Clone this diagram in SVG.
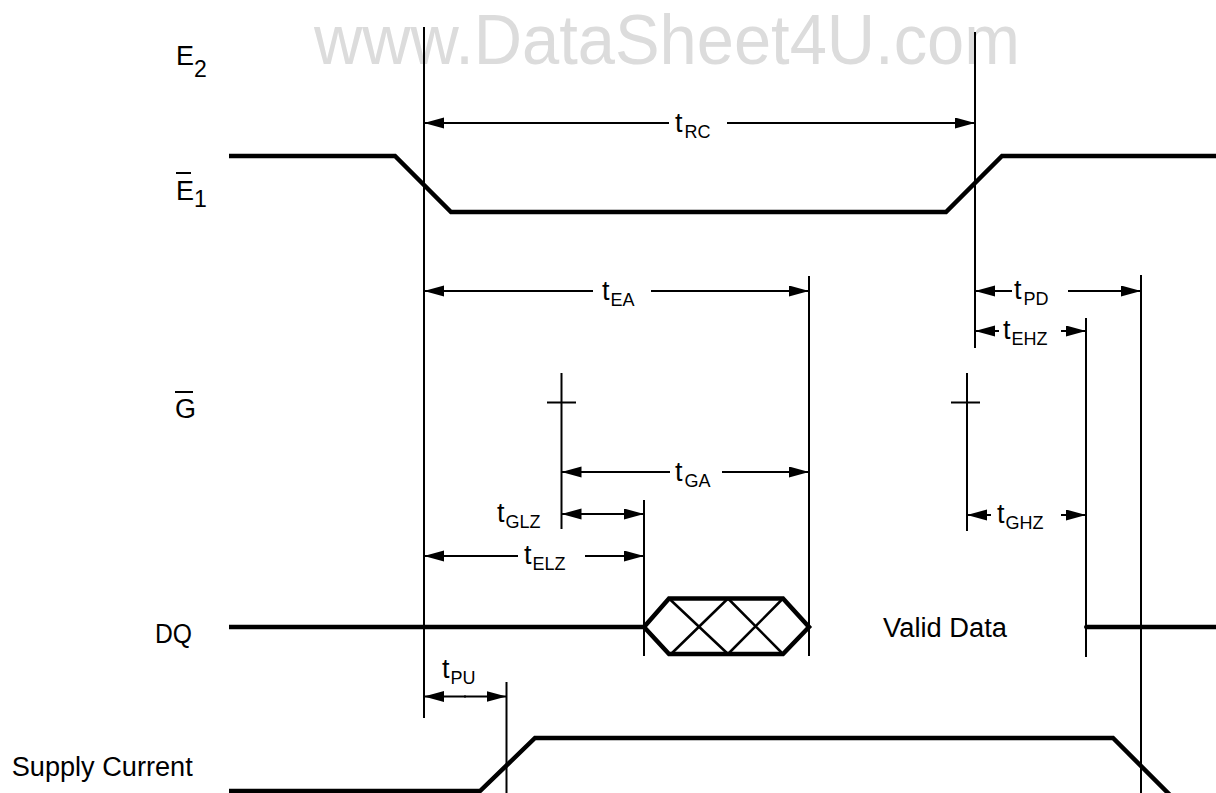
<svg xmlns="http://www.w3.org/2000/svg" width="1216" height="793" viewBox="0 0 1216 793">
<style>
text{font-family:"Liberation Sans",Arial,Helvetica,sans-serif;fill:#000}
.wm{font-size:70px;fill:#dcdcdc}
.row{font-size:27px}
.lbl{font-size:27px}
.sub{font-size:18px}
.sig{stroke:#000;stroke-width:4.5;fill:none;stroke-linejoin:miter}
.thin{stroke:#000;stroke-width:2;fill:none}
.arr{stroke:#000;stroke-width:2;fill:none;marker-end:url(#ah)}
.hatch{stroke:#000;stroke-width:2.5;fill:none}
</style>
<defs>
<marker id="ah" markerUnits="userSpaceOnUse" markerWidth="22" markerHeight="12" refX="20" refY="5.5" orient="auto">
<path d="M0,0 L20,5.5 L0,11 z" fill="#000"/>
</marker>
</defs>
<rect width="1216" height="793" fill="#fff"/>
<text class="wm" x="314" y="64" textLength="706" lengthAdjust="spacingAndGlyphs">www.DataSheet4U.com</text>

<g id="signal-E2">
<text class="row" x="176" y="65">E<tspan font-size="23" dy="12">2</tspan></text>
</g>

<g id="signal-E1">
<line class="thin" x1="176" y1="173" x2="191" y2="173"/>
<text class="row" x="176" y="200">E<tspan font-size="23" dy="7">1</tspan></text>
<polyline class="sig" points="229,156 395,156 451,212 946,212 1002,156 1216,156"/>
</g>

<g id="signal-G">
<line class="thin" x1="175" y1="392" x2="193" y2="392"/>
<text class="row" x="175" y="418">G</text>
<line class="thin" x1="561.5" y1="373" x2="561.5" y2="529"/>
<line class="thin" x1="547" y1="402.5" x2="576" y2="402.5"/>
<line class="thin" x1="967" y1="373" x2="967" y2="531"/>
<line class="thin" x1="951" y1="402.5" x2="980" y2="402.5"/>
</g>

<g id="signal-DQ">
<text class="row" x="155" y="643" font-size="25" textLength="37" lengthAdjust="spacingAndGlyphs">DQ</text>
<line class="sig" x1="229" y1="627" x2="644" y2="627" stroke-width="4"/>
<polygon class="sig" points="644,627 669,598.5 783,598.5 809,627 783,654 669,654"/>
<path class="hatch" d="M669,598.5 L728,654 M728,598.5 L671,654 M728,598.5 L783,654 M783,598.5 L728,654"/>
<text class="row" x="883" y="637" font-size="29" textLength="124" lengthAdjust="spacingAndGlyphs">Valid Data</text>
<line class="sig" x1="1086" y1="627" x2="1216" y2="627" stroke-width="3"/>
<circle cx="1086" cy="627" r="2" fill="#000"/>
</g>

<g id="signal-supply">
<text class="row" x="11.7" y="776" textLength="181" lengthAdjust="spacingAndGlyphs">Supply Current</text>
<polyline class="sig" points="229,791 480,791 535,738 1113,738 1170,795" stroke-width="4"/>
</g>

<g id="connectors">
<line class="thin" x1="424" y1="27" x2="424" y2="718"/>
<line class="thin" x1="975" y1="32" x2="975" y2="348"/>
<line class="thin" x1="809" y1="276" x2="809" y2="656"/>
<line class="thin" x1="1141" y1="275" x2="1141" y2="793"/>
<line class="thin" x1="1086" y1="318" x2="1086" y2="657"/>
<line class="thin" x1="644" y1="500" x2="644" y2="656"/>
<line class="thin" x1="506.5" y1="682" x2="506.5" y2="793"/>

<path class="arr" d="M669,123 L424,123"/>
<path class="arr" d="M727,123 L975,123"/>
<text class="lbl" x="675" y="132">t<tspan class="sub" dx="2" dy="5.5">RC</tspan></text>

<path class="arr" d="M593,291 L424,291"/>
<path class="arr" d="M651,291 L809,291"/>
<text class="lbl" x="602" y="300">t<tspan class="sub" dx="1" dy="5.5">EA</tspan></text>

<path class="arr" d="M1012,291 L975,291"/>
<path class="arr" d="M1068,291 L1141,291"/>
<text class="lbl" x="1014" y="299">t<tspan class="sub" dx="2" dy="5.5">PD</tspan></text>

<path class="arr" d="M999,331 L975,331"/>
<path class="arr" d="M1061,331 L1086,331"/>
<text class="lbl" x="1003" y="339">t<tspan class="sub" dx="1" dy="5.5">EHZ</tspan></text>

<path class="arr" d="M670,472 L561.5,472"/>
<path class="arr" d="M722,472 L809,472"/>
<text class="lbl" x="675" y="481">t<tspan class="sub" dx="2" dy="5.5">GA</tspan></text>

<path class="arr" d="M603,514 L561.5,514"/>
<path class="arr" d="M600,514 L644,514"/>
<text class="lbl" x="497" y="522">t<tspan class="sub" dx="1" dy="5.5">GLZ</tspan></text>

<path class="arr" d="M518,556 L424,556"/>
<path class="arr" d="M585,556 L644,556"/>
<text class="lbl" x="524" y="564">t<tspan class="sub" dx="1" dy="5.5">ELZ</tspan></text>

<path class="arr" d="M991,515 L967,515"/>
<path class="arr" d="M1061,515 L1086,515"/>
<text class="lbl" x="997" y="523">t<tspan class="sub" dx="1" dy="5.5">GHZ</tspan></text>

<path class="arr" d="M466,696.5 L424,696.5"/>
<path class="arr" d="M464,696.5 L506.5,696.5"/>
<text class="lbl" x="442" y="678">t<tspan class="sub" dx="1" dy="5.5">PU</tspan></text>
</g>
</svg>
